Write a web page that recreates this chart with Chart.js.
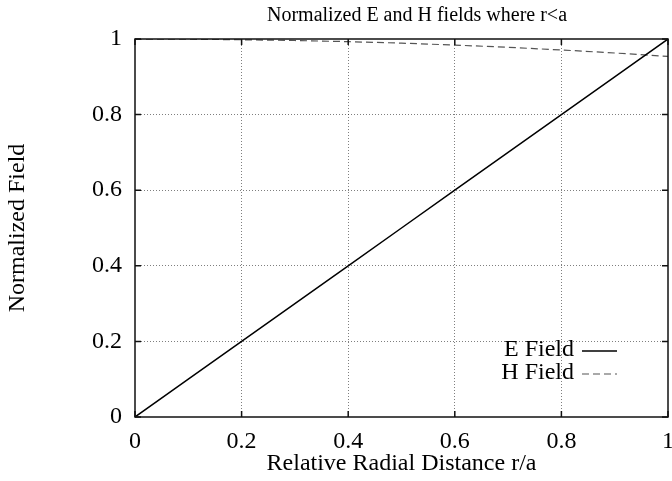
<!DOCTYPE html>
<html>
<head>
<meta charset="utf-8">
<script src="https://cdn.jsdelivr.net/npm/chart.js@4/dist/chart.umd.min.js"></script>
<style>
  html, body { margin: 0; padding: 0; background: #fff; overflow: hidden; }
  #wrap { width: 672px; height: 481px; overflow: hidden; }
</style>
</head>
<body>
<div id="wrap"><canvas id="c" width="700" height="481"></canvas></div>
<script>
const titleText = 'Normalized E and H fields where r<a';
const xTitle = 'Relative Radial Distance r/a';
const yTitle = 'Normalized Field';
const rValues = [0, 0.1, 0.2, 0.3, 0.4, 0.5, 0.6, 0.7, 0.8, 0.9, 1.0];
const eField  = [0, 0.1, 0.2, 0.3, 0.4, 0.5, 0.6, 0.7, 0.8, 0.9, 1.0];
const hField  = [1.000, 0.9995, 0.998, 0.996, 0.993, 0.989, 0.984, 0.978, 0.971, 0.963, 0.954];
const xTickLabels = ['0', '0.2', '0.4', '0.6', '0.8', '1'];
const yTickLabels = ['0', '0.2', '0.4', '0.6', '0.8', '1'];
const seriesNames = ['E Field', 'H Field'];

const FONT = 'Liberation Serif';

const toPts = (xs, ys) => xs.map((x, i) => ({x: x, y: ys[i]}));

const boxPlugin = {
  id: 'boxTicks',
  afterDatasetsDraw(chart) {
    const {ctx, chartArea: a, scales} = chart;
    ctx.save();
    // frame
    ctx.strokeStyle = '#111';
    ctx.lineWidth = 1.5;
    ctx.strokeRect(a.left, a.top, a.right - a.left, a.bottom - a.top);
    // inward tick marks
    const L = 6;
    ctx.beginPath();
    scales.x.ticks.forEach(t => {
      const px = scales.x.getPixelForValue(t.value);
      ctx.moveTo(px, a.bottom); ctx.lineTo(px, a.bottom - L);
      ctx.moveTo(px, a.top); ctx.lineTo(px, a.top + L);
    });
    scales.y.ticks.forEach(t => {
      const py = scales.y.getPixelForValue(t.value);
      ctx.moveTo(a.left, py); ctx.lineTo(a.left + L, py);
      ctx.moveTo(a.right, py); ctx.lineTo(a.right - L, py);
    });
    ctx.stroke();

    // title centred over the plot
    ctx.font = '20px "' + FONT + '"';
    ctx.fillStyle = '#000';
    ctx.textAlign = 'center';
    ctx.textBaseline = 'middle';
    ctx.fillText(titleText, a.left + 282, a.top - 23);

    // key inside plot
    ctx.font = '24px "' + FONT + '"';
    ctx.textAlign = 'right';
    const textRight = a.left + 439;
    const lineX1 = a.left + 447, lineX2 = a.left + 482;
    const rows = [a.bottom - 67, a.bottom - 44];
    chart.data.datasets.forEach((ds, i) => {
      ctx.fillStyle = '#000';
      ctx.fillText(ds.label, textRight, rows[i]);
      ctx.beginPath();
      ctx.strokeStyle = ds.borderColor;
      ctx.lineWidth = ds.borderWidth;
      ctx.setLineDash(ds.borderDash || []);
      ctx.moveTo(lineX1, rows[i] + 1);
      ctx.lineTo(lineX2, rows[i] + 1);
      ctx.stroke();
    });
    ctx.restore();
  }
};

const gridColor = (ctx) => {
  const v = ctx.tick ? ctx.tick.value : null;
  if (v === 0 || v === 1) return 'rgba(0,0,0,0)';
  return 'rgba(0,0,0,0.5)';
};

new Chart(document.getElementById('c'), {
  type: 'scatter',
  data: {
    datasets: [
      {
        label: seriesNames[0],
        data: toPts(rValues, eField),
        showLine: true,
        borderColor: '#000',
        borderWidth: 1.5,
        pointRadius: 0,
        tension: 0
      },
      {
        label: seriesNames[1],
        data: toPts(rValues, hField),
        showLine: true,
        borderColor: '#555',
        borderWidth: 1.2,
        borderDash: [7, 4],
        pointRadius: 0,
        tension: 0
      }
    ]
  },
  options: {
    responsive: false,
    animation: false,
    devicePixelRatio: 1,
    layout: { padding: { left: 0, right: 32, top: 39, bottom: 0 } },
    plugins: {
      legend: { display: false },
      tooltip: { enabled: false },
      title: { display: false }
    },
    scales: {
      x: {
        type: 'linear',
        min: 0, max: 1,
        afterFit: (s) => { s.height = 64; },
        afterBuildTicks: (s) => { s.ticks = xTickLabels.map(l => ({value: parseFloat(l)})); },
        ticks: {
          color: '#000',
          font: { family: FONT, size: 24 },
          padding: 10,
          maxRotation: 0,
          autoSkip: false,
          callback: (v, i) => xTickLabels[i]
        },
        grid: { color: gridColor, lineWidth: 1, drawTicks: false },
        border: { display: false, dash: [1, 2] },
        title: {
          display: true,
          text: xTitle,
          color: '#000',
          font: { family: FONT, size: 24 },
          padding: { top: 0, bottom: 3 }
        }
      },
      y: {
        type: 'linear',
        min: 0, max: 1,
        afterFit: (s) => { s.width = 135; },
        afterBuildTicks: (s) => { s.ticks = yTickLabels.map(l => ({value: parseFloat(l)})); },
        ticks: {
          color: '#000',
          font: { family: FONT, size: 24 },
          padding: 13,
          autoSkip: false,
          callback: (v, i) => yTickLabels[i]
        },
        grid: { color: gridColor, lineWidth: 1, drawTicks: false },
        border: { display: false, dash: [1, 2] },
        title: {
          display: true,
          text: yTitle,
          color: '#000',
          font: { family: FONT, size: 24 },
          padding: { top: 3, bottom: 0 }
        }
      }
    }
  },
  plugins: [boxPlugin]
});
</script>
</body>
</html>
